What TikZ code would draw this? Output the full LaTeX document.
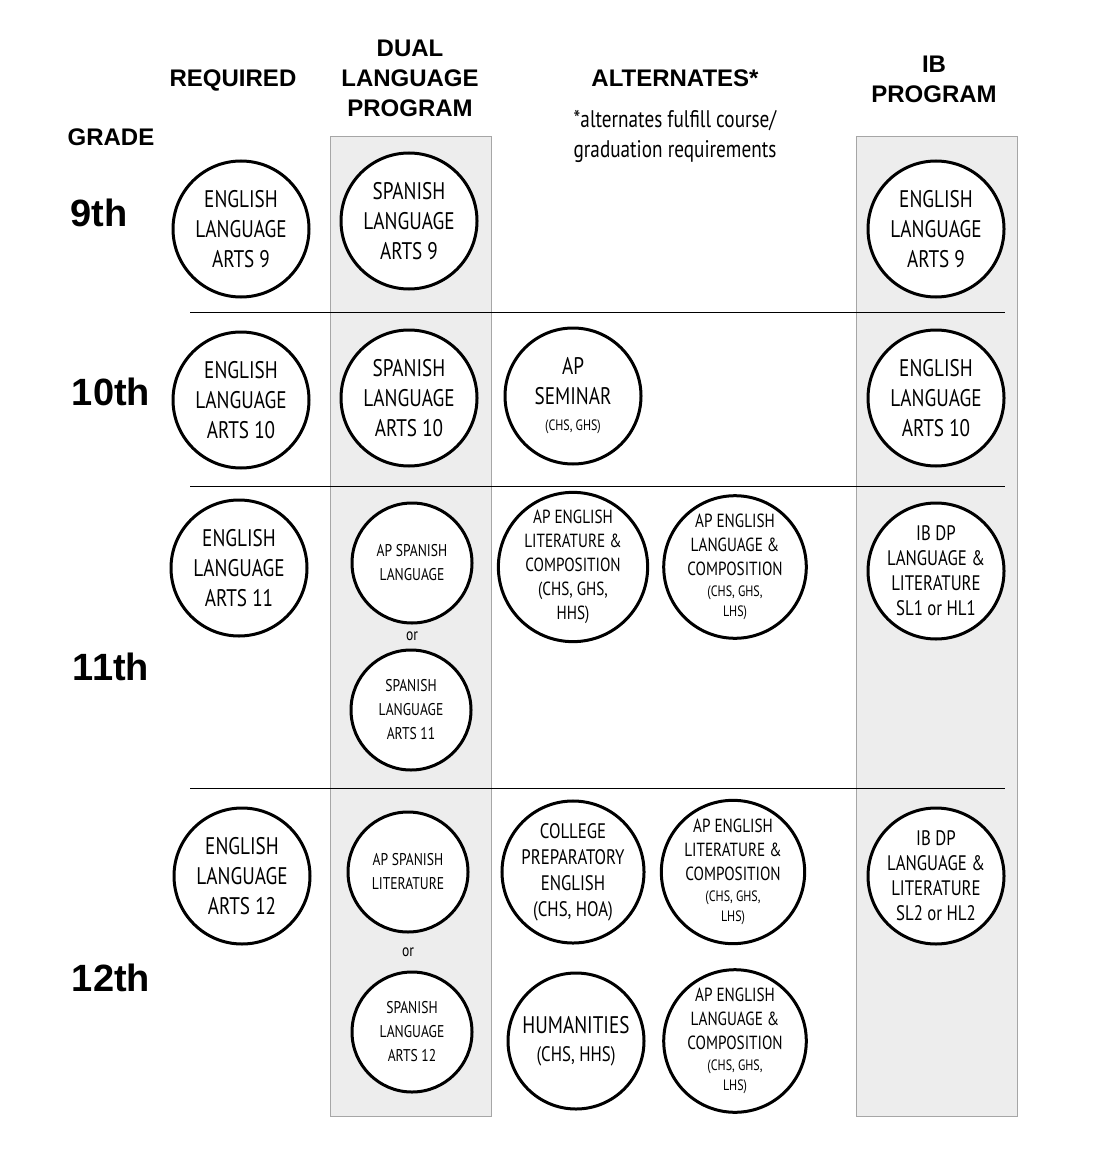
\documentclass[tikz,border=0pt]{standalone}
\usepackage{fontspec}
\setmainfont{Liberation Sans}
\newfontfamily\cond[FakeStretch=0.8]{PT Sans}
\newcommand{\fA}{\cond\fontsize{24}{30}\selectfont}
\newcommand{\fB}{\cond\fontsize{19}{24}\selectfont}
\newcommand{\fC}{\cond\fontsize{15}{16}\selectfont}
\begin{document}
\begin{tikzpicture}[x=1pt,y=-1pt,
  circ/.style={draw=black,line width=3pt,circle,inner sep=0pt,align=center,fill=white},
  big/.style={circ,minimum size=136pt,font=\fA},
  sml/.style={circ,minimum size=120pt,font=\fB},
  mid/.style={circ,minimum size=136pt,font=\fB},
  hdr/.style={font=\bfseries\fontsize{24}{30}\selectfont,align=center},
  grade/.style={font=\bfseries\fontsize{38}{40}\selectfont},
  col/.style={fill=black!7,draw=black!35,line width=1pt},
  sep/.style={draw=black,line width=1pt}]
\useasboundingbox (0,0) rectangle (1098,1166);
\fill[white] (0,0) rectangle (1098,1166);
\draw[col] (330,137) rectangle (491,1116);
\draw[col] (856,137) rectangle (1017,1116);
\foreach \yy in {312,486,788} \draw[sep] (190,\yy) -- (1005,\yy);
% headers
\node[hdr] (hreq) at (233,80) {REQUIRED};
\node[hdr] (hdl) at (410,78) {DUAL\\LANGUAGE\\PROGRAM};
\node[hdr] (halt) at (675,78) {ALTERNATES*};
\node[font=\cond\fontsize{24}{30}\selectfont,align=center] (hnote) at (675,136) {*alternates fulfill course/\\graduation requirements};
\node[hdr] (hib) at (934,79) {IB\\PROGRAM};
\node[hdr] (hgr) at (111,137) {GRADE};
\node[grade] (g9) at (99,213) {9th};
\node[grade] (g10) at (111,392) {10th};
\node[grade] (g11) at (111,667) {11th};
\node[grade] (g12) at (111,978) {12th};
% row 9
\node[big] (r9) at (241,229) {ENGLISH\\LANGUAGE\\ARTS 9};
\node[big] (d9) at (409,221) {SPANISH\\LANGUAGE\\ARTS 9};
\node[big] (i9) at (936,229) {ENGLISH\\LANGUAGE\\ARTS 9};
% row 10
\node[big] (r10) at (241,400) {ENGLISH\\LANGUAGE\\ARTS 10};
\node[big] (d10) at (409,398) {SPANISH\\LANGUAGE\\ARTS 10};
\node[big] (a10) at (573,396) {AP\\SEMINAR\\[-4pt]{\fC(CHS, GHS)}};
\node[big] (i10) at (936,398) {ENGLISH\\LANGUAGE\\ARTS 10};
% row 11
\node[big] (r11) at (239,568) {ENGLISH\\LANGUAGE\\ARTS 11};
\node[sml,font=\cond\fontsize{17}{24}\selectfont] (d11a) at (412,563) {AP SPANISH\\LANGUAGE};
\node[font=\cond\fontsize{17}{20}\selectfont] (or11) at (412,636) {or};
\node[sml,font=\cond\fontsize{17}{24}\selectfont] (d11b) at (411,710) {SPANISH\\LANGUAGE\\ARTS 11};
\node[mid] (a11a) at (573,567) {AP ENGLISH\\LITERATURE \&\\COMPOSITION\\(CHS, GHS,\\HHS)};
\node[mid] (a11b) at (735,567) {AP ENGLISH\\LANGUAGE \&\\COMPOSITION\\[-3pt]{\fC(CHS, GHS,}\\[-4pt]{\fC LHS)}};
\node[mid,font=\cond\fontsize{21}{25}\selectfont] (i11) at (936,571) {IB DP\\LANGUAGE \&\\LITERATURE\\SL1 or HL1};
% row 12
\node[big] (r12) at (242,876) {ENGLISH\\LANGUAGE\\ARTS 12};
\node[sml,font=\cond\fontsize{17}{24}\selectfont] (d12a) at (408,872) {AP SPANISH\\LITERATURE};
\node[font=\cond\fontsize{17}{20}\selectfont] (or12) at (408,952) {or};
\node[sml,font=\cond\fontsize{17}{24}\selectfont] (d12b) at (412,1032) {SPANISH\\LANGUAGE\\ARTS 12};
\node[mid,font=\cond\fontsize{21}{26}\selectfont] (a12a) at (573,872) {COLLEGE\\PREPARATORY\\ENGLISH\\(CHS, HOA)};
\node[mid] (a12b) at (733,872) {AP ENGLISH\\LITERATURE \&\\COMPOSITION\\[-3pt]{\fC(CHS, GHS,}\\[-4pt]{\fC LHS)}};
\node[mid,font=\cond\fontsize{24}{28}\selectfont] (a12c) at (576,1041) {HUMANITIES\\{\fontsize{21}{26}\selectfont(CHS, HHS)}};
\node[mid] (a12d) at (735,1041) {AP ENGLISH\\LANGUAGE \&\\COMPOSITION\\[-3pt]{\fC(CHS, GHS,}\\[-4pt]{\fC LHS)}};
\node[mid,font=\cond\fontsize{21}{25}\selectfont] (i12) at (936,876) {IB DP\\LANGUAGE \&\\LITERATURE\\SL2 or HL2};
\end{tikzpicture}
\end{document}
